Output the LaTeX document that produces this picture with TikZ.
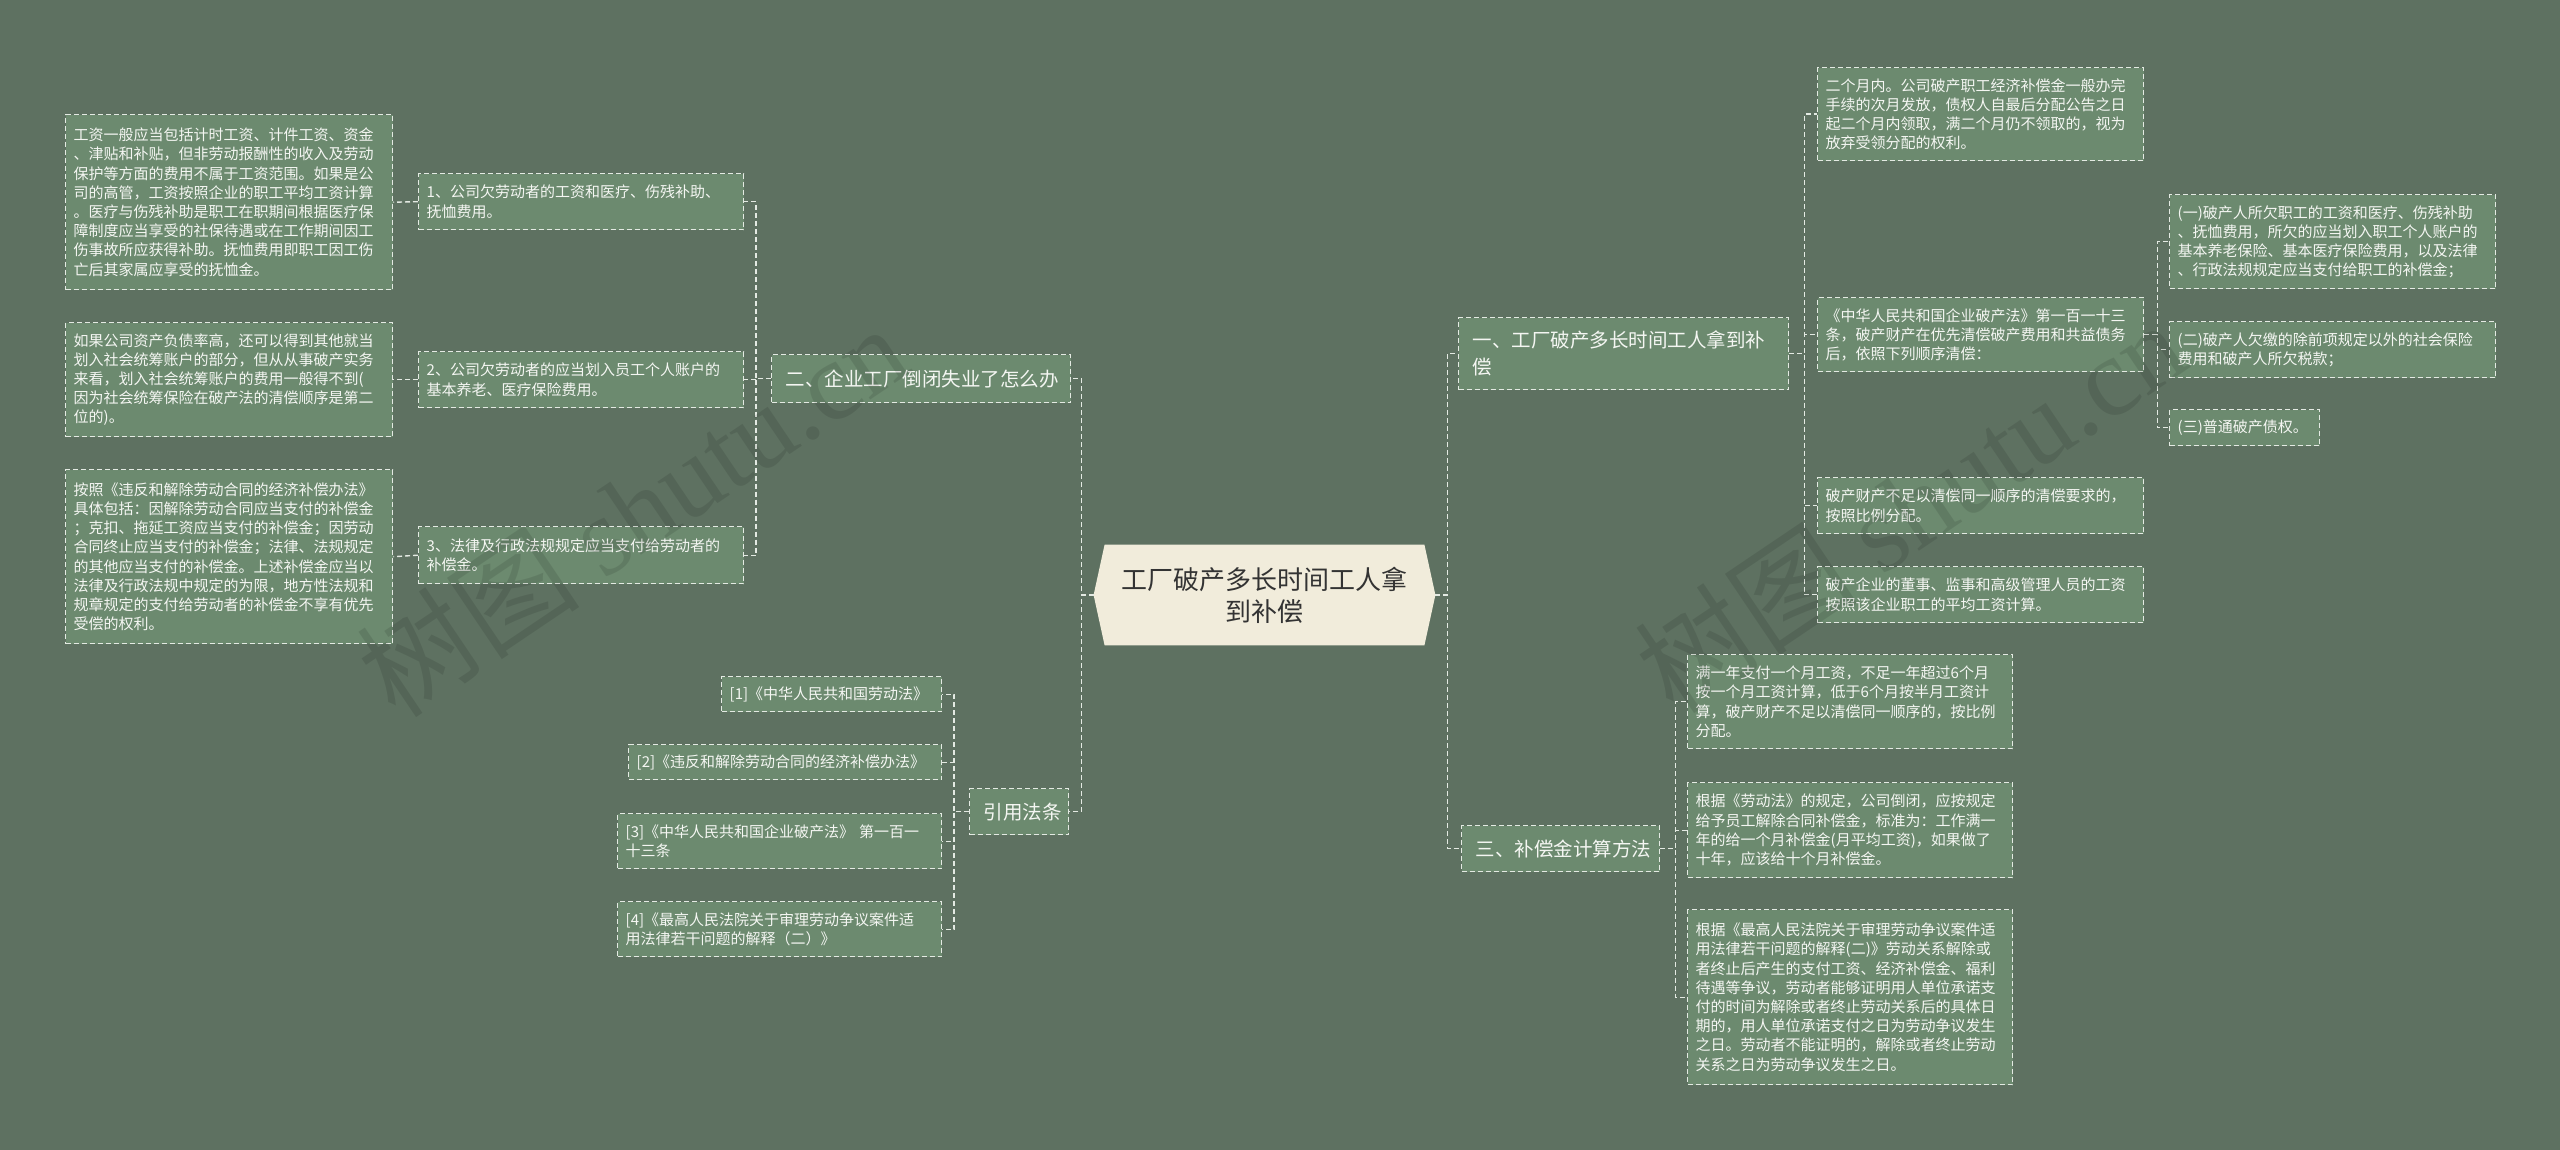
\documentclass[tikz,border=0pt]{standalone}
\usepackage{fontspec}
\setmainfont{Noto Sans CJK SC}
\newfontfamily\wmlatin{Liberation Serif}
\definecolor{bgc}{HTML}{5E7161}
\definecolor{boxc}{HTML}{6C8A6F}
\definecolor{linec}{HTML}{E4EAE3}
\definecolor{centc}{HTML}{F1ECDB}
\definecolor{txtc}{HTML}{F4F6F2}
\pgfdeclarelayer{bg}
\pgfsetlayers{bg,main}
\tikzset{
  dsh/.style={dash pattern=on 2.5pt off 1.5pt, line width=0.7pt, draw=linec},
  smallbox/.style={dsh, fill=boxc, text=txtc, font=\fontsize{7.5pt}{9.6pt}\selectfont, inner xsep=4pt, inner ysep=2pt, align=left, anchor=north west},
  branchbox/.style={dsh, fill=boxc, text=txtc, font=\fontsize{9.75pt}{13.5pt}\selectfont, inner xsep=7pt, inner ysep=2pt, align=left, anchor=north west},
  conn/.style={dsh},
  wmark/.style={text=black, opacity=0.1, rotate=34, font=\fontsize{56pt}{56pt}\selectfont},
}
% #1 style, #2 xsep, #3 name, #4 x1, #5 y1, #6 x2, #7 y2, #8 text
\newcommand{\mybox}[8]{%
  \pgfmathsetmacro\myBW{(#6-#4)*0.5}%
  \pgfmathsetmacro\myBH{(#7-#5)*0.5}%
  \pgfmathsetmacro\myTW{(#6-#4)*0.5-2*#2}%
  \node[#1, minimum width=\myBW pt, minimum height=\myBH pt, text width=\myTW pt] (#3) at (#4,#5) {#8};%
}
\begin{document}
\begin{tikzpicture}[x=0.5pt,y=-0.5pt]
\begin{pgfonlayer}{bg}
\fill[bgc] (0,0) rectangle (2560,1150);
\end{pgfonlayer}
\useasboundingbox (0,0) rectangle (2560,1150);

% center
\node[font=\fontsize{13pt}{16pt}\selectfont, text=black!80, align=center, minimum width=159.5pt, minimum height=50pt, inner sep=0pt] (c) at (1264.5,595) {工厂破产多长时间工人拿\\到补偿};
\begin{pgfonlayer}{bg}
\fill[centc] ([xshift=-5.5pt]c.west) -- (c.north west) -- (c.north east) -- ([xshift=5.5pt]c.east) -- (c.south east) -- (c.south west) -- cycle;
\end{pgfonlayer}
\coordinate (cL) at ([xshift=-5.5pt]c.west);
\coordinate (cR) at ([xshift=5.5pt]c.east);

% left branch 2
\mybox{branchbox}{7}{b2}{771}{354}{1070}{402}{二、企业工厂倒闭失业了怎么办}
\mybox{smallbox}{4}{l1}{418}{173}{743}{229}{1、公司欠劳动者的工资和医疗、伤残补助、\\抚恤费用。}
\mybox{smallbox}{4}{l2}{418}{351}{743}{407}{2、公司欠劳动者的应当划入员工个人账户的\\基本养老、医疗保险费用。}
\mybox{smallbox}{4}{l3}{418}{526}{743}{583}{3、法律及行政法规规定应当支付给劳动者的\\补偿金。}
\mybox{smallbox}{4}{a1}{65}{114}{392}{289}{工资一般应当包括计时工资、计件工资、资金\\、津贴和补贴，但非劳动报酬性的收入及劳动\\保护等方面的费用不属于工资范围。如果是公\\司的高管，工资按照企业的职工平均工资计算\\。医疗与伤残补助是职工在职期间根据医疗保\\障制度应当享受的社保待遇或在工作期间因工\\伤事故所应获得补助。抚恤费用即职工因工伤\\亡后其家属应享受的抚恤金。}
\mybox{smallbox}{4}{a2}{65}{322}{392}{436}{如果公司资产负债率高，还可以得到其他就当\\划入社会统筹账户的部分，但从从事破产实务\\来看，划入社会统筹账户的费用一般得不到(\\因为社会统筹保险在破产法的清偿顺序是第二\\位的)。}
\mybox{smallbox}{4}{a3}{65}{469}{392}{643}{按照《违反和解除劳动合同的经济补偿办法》\\具体包括：因解除劳动合同应当支付的补偿金\\；克扣、拖延工资应当支付的补偿金；因劳动\\合同终止应当支付的补偿金；法律、法规规定\\的其他应当支付的补偿金。上述补偿金应当以\\法律及行政法规中规定的为限，地方性法规和\\规章规定的支付给劳动者的补偿金不享有优先\\受偿的权利。}

% references
\mybox{branchbox}{7}{rh}{969}{788}{1068}{834}{引用法条}
\mybox{smallbox}{4}{ref1}{721}{676}{941}{711}{[1]《中华人民共和国劳动法》}
\mybox{smallbox}{4}{ref2}{628}{744}{941}{779}{[2]《违反和解除劳动合同的经济补偿办法》}
\mybox{smallbox}{4}{ref3}{617}{813}{941}{868}{[3]《中华人民共和国企业破产法》 第一百一\\十三条}
\mybox{smallbox}{4}{ref4}{617}{901}{941}{956}{[4]《最高人民法院关于审理劳动争议案件适\\用法律若干问题的解释（二）》}

% right branch 1
\mybox{branchbox}{7}{b1}{1458}{317}{1788}{389}{一、工厂破产多长时间工人拿到补\\偿}
\mybox{smallbox}{4}{r1}{1817}{67}{2143}{160}{二个月内。公司破产职工经济补偿金一般办完\\手续的次月发放，债权人自最后分配公告之日\\起二个月内领取，满二个月仍不领取的，视为\\放弃受领分配的权利。}
\mybox{smallbox}{4}{r2}{1817}{297}{2143}{371}{《中华人民共和国企业破产法》第一百一十三\\条，破产财产在优先清偿破产费用和共益债务\\后，依照下列顺序清偿：}
\mybox{smallbox}{4}{r3}{1817}{477}{2143}{533}{破产财产不足以清偿同一顺序的清偿要求的，\\按照比例分配。}
\mybox{smallbox}{4}{r4}{1817}{566}{2143}{622}{破产企业的董事、监事和高级管理人员的工资\\按照该企业职工的平均工资计算。}
\mybox{smallbox}{4}{r2a}{2169}{194}{2495}{288}{(一)破产人所欠职工的工资和医疗、伤残补助\\、抚恤费用，所欠的应当划入职工个人账户的\\基本养老保险、基本医疗保险费用，以及法律\\、行政法规规定应当支付给职工的补偿金；}
\mybox{smallbox}{4}{r2b}{2169}{321}{2495}{377}{(二)破产人欠缴的除前项规定以外的社会保险\\费用和破产人所欠税款；}
\mybox{smallbox}{4}{r2c}{2169}{409}{2319}{445}{(三)普通破产债权。}

% right branch 3
\mybox{branchbox}{7}{b3}{1461}{825}{1659}{871}{三、补偿金计算方法}
\mybox{smallbox}{4}{s1}{1687}{654}{2012}{748}{满一年支付一个月工资，不足一年超过6个月\\按一个月工资计算，低于6个月按半月工资计\\算，破产财产不足以清偿同一顺序的，按比例\\分配。}
\mybox{smallbox}{4}{s2}{1687}{782}{2012}{877}{根据《劳动法》的规定，公司倒闭，应按规定\\给予员工解除合同补偿金，标准为：工作满一\\年的给一个月补偿金(月平均工资)，如果做了\\十年，应该给十个月补偿金。}
\mybox{smallbox}{4}{s3}{1687}{909}{2012}{1084}{根据《最高人民法院关于审理劳动争议案件适\\用法律若干问题的解释(二)》劳动关系解除或\\者终止后产生的支付工资、经济补偿金、福利\\待遇等争议，劳动者能够证明用人单位承诺支\\付的时间为解除或者终止劳动关系后的具体日\\期的，用人单位承诺支付之日为劳动争议发生\\之日。劳动者不能证明的，解除或者终止劳动\\关系之日为劳动争议发生之日。}

% connectors
\draw[conn] (cL) -- ++(-12,0) |- (b2.east);
\draw[conn] (cL) -- ++(-12,0) |- (rh.east);
\draw[conn] (cR) -- ++(12,0) |- (b1.west);
\draw[conn] (cR) -- ++(12,0) |- (b3.west);
\foreach \t in {l1,l2,l3} \draw[conn] (b2.west) -- ++(-15,0) |- (\t.east);
\draw[conn] (l1.west) -- (a1.east);
\draw[conn] (l2.west) -- (a2.east);
\draw[conn] (l3.west) -- (a3.east);
\foreach \t in {ref1,ref2,ref3,ref4} \draw[conn] (rh.west) -- ++(-15,0) |- (\t.east);
\foreach \t in {r1,r2,r3,r4} \draw[conn] (b1.east) -- ++(15,0) |- (\t.west);
\foreach \t in {r2a,r2b,r2c} \draw[conn] (r2.east) -- ++(13,0) |- (\t.west);
\foreach \t in {s1,s2,s3} \draw[conn] (b3.east) -- ++(15,0) |- (\t.west);

% watermarks
\node[wmark] (wm1) at (632,510) {树图 {\wmlatin shutu.cn}};
\node[wmark] (wm2) at (1910,506) {树图 {\wmlatin shutu.cn}};
\end{tikzpicture}
\end{document}
